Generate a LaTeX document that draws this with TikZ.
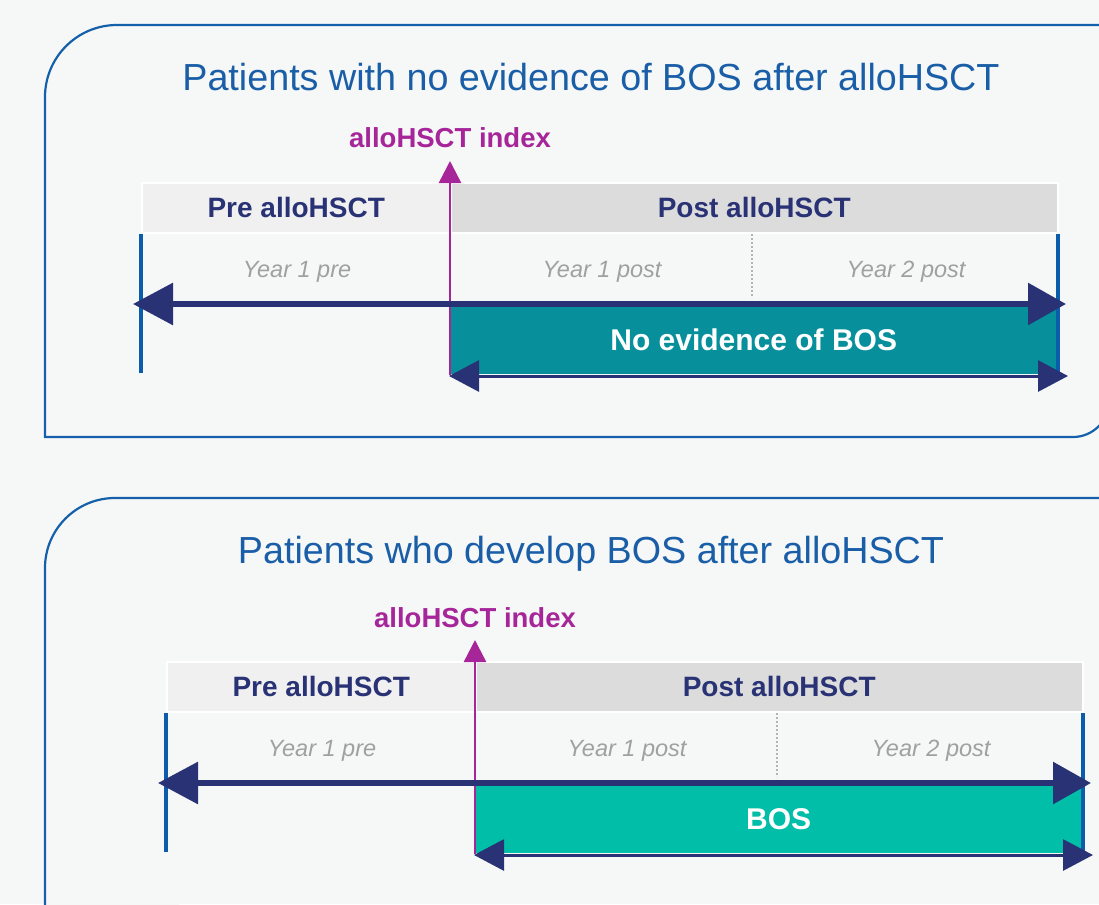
\documentclass[tikz,border=0pt]{standalone}
\usepackage{fontspec}
\setmainfont{Liberation Sans}
\usetikzlibrary{arrows.meta}
\definecolor{bgc}{HTML}{F6F8F8}
\definecolor{panelblue}{HTML}{1560AA}
\definecolor{titleblue}{HTML}{1A5EA8}
\definecolor{idxpink}{HTML}{A6269A}
\definecolor{navyc}{HTML}{283274}
\definecolor{preGray}{HTML}{F0F0F0}
\definecolor{postGray}{HTML}{DCDCDC}
\definecolor{yeargray}{HTML}{A0A0A0}
\definecolor{barblue}{HTML}{0B5CAD}
\definecolor{tealA}{HTML}{07909C}
\definecolor{tealB}{HTML}{00BEA8}
\tikzset{
  panel/.style={draw=panelblue, line width=2.2pt, fill=bgc},
  ttl/.style={text=titleblue, anchor=base, inner sep=0pt, font=\fontsize{37.7}{40}\selectfont},
  hdr/.style={draw=white, line width=1.5pt, minimum height=50pt, anchor=north west, inner sep=0pt, text=navyc, font=\bfseries\fontsize{28}{30}\selectfont},
  yr/.style={text=yeargray, anchor=base, inner sep=0pt, font=\itshape\fontsize{23.5}{25}\selectfont},
  idx/.style={text=idxpink, anchor=base, inner sep=0pt, font=\bfseries\fontsize{27.5}{29}\selectfont},
  idxarr/.style={draw=idxpink, line width=2.5pt, -{Triangle[length=22pt,width=22pt]}},
  bar/.style={draw=barblue, line width=4pt},
  dots/.style={draw=yeargray!80, line width=1.2pt, dash pattern=on 2pt off 2pt},
  boxn/.style={minimum width=607pt, minimum height=68pt, anchor=north west, inner sep=0pt, text=white, font=\bfseries\fontsize{30}{32}\selectfont},
  mainarr/.style={draw=navyc, line width=6pt, {Triangle[length=40pt,width=41pt]}-{Triangle[length=38pt,width=41pt]}},
  lowarr/.style={draw=navyc, line width=3pt, {Triangle[length=30pt,width=31pt]}-{Triangle[length=30pt,width=31pt]}}
}
\newcommand\timeline[2]{%
  \node[hdr, fill=preGray, minimum width=309pt] (pre) at (141,182) {Pre alloHSCT};
  \node[hdr, fill=postGray, minimum width=607pt] (post) at (450,182) {Post alloHSCT};
  \node[yr] (y1) at (297,277) {Year 1 pre};
  \node[yr] (y2) at (602,277) {Year 1 post};
  \node[yr] (y3) at (906,277) {Year 2 post};
  \coordinate (d1) at (752,234); \coordinate (d2) at (752,298);
  \draw[dots] (d1) -- (d2);
  \node[boxn, fill=#1] (box) at (450,306) {#2};
  \coordinate (lb1) at (141,234); \coordinate (lb2) at (141,373);
  \coordinate (rb1) at (1058,234); \coordinate (rb2) at (1058,373);
  \draw[bar] (lb1) -- (lb2);
  \draw[bar] (rb1) -- (rb2);
  \node[idx] (idx) at (450,148) {alloHSCT index};
  \coordinate (i0) at (450,375); \coordinate (i1) at (450,161);
  \draw[idxarr] (i0) -- (i1);
  \coordinate (mL) at (133,304); \coordinate (mR) at (1066,304);
  \draw[mainarr] (mL) -- (mR);
  \coordinate (lL) at (449,376); \coordinate (lR) at (1068,376);
  \draw[lowarr] (lL) -- (lR);
}
\begin{document}
\begin{tikzpicture}[x=1pt,y=-1pt]
\useasboundingbox (0,0) rectangle (1099,904);
\clip (0,0) rectangle (1099,904);
\fill[bgc] (0,0) rectangle (1099,904);
% top panel
\draw[panel] (1160,25) -- (117,25) arc[start angle=270, end angle=180, radius=72]
  -- (45,437) -- (1073,437) arc[start angle=90, end angle=0, radius=36] -- (1109,0);
% bottom panel
\draw[panel] (45,960) -- (45,568) arc[start angle=180, end angle=270, radius=70] -- (1160,498);
\node[ttl] (t1) at (591,91) {Patients with no evidence of BOS after alloHSCT};
\node[ttl] (t2) at (591,563) {Patients who develop BOS after alloHSCT};
\begin{scope}[name prefix=a-]
  \timeline{tealA}{No evidence of BOS}
\end{scope}
\begin{scope}[shift={(25,479)}, name prefix=b-]
  \timeline{tealB}{BOS}
\end{scope}
\end{tikzpicture}
\end{document}
